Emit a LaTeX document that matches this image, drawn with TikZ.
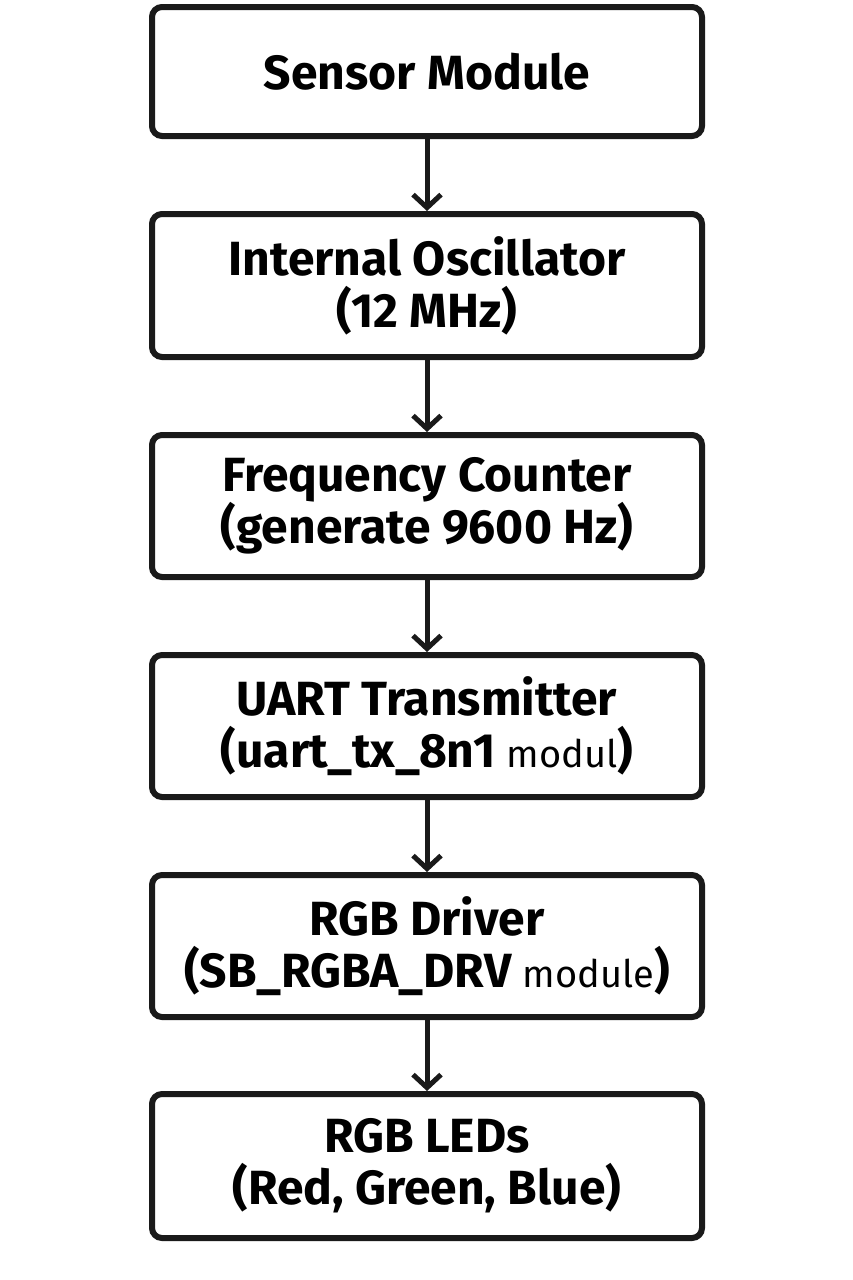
\documentclass[tikz,border=0pt]{standalone}
\usepackage{fontspec}
\setmainfont{Fira Sans}
\usetikzlibrary{arrows.meta}
\tikzset{
  blk/.style={draw=ink, line width=6pt, rounded corners=10pt, fill=white,
    minimum width=550pt, align=center, inner sep=0pt,
    font=\fontsize{48}{52}\selectfont\bfseries},
  flow/.style={draw=ink, line width=5pt, -{Straight Barb[length=13pt,width=28pt,line width=5pt]}},
}
\definecolor{ink}{HTML}{1A1A1A}
\newcommand{\sm}[1]{{\fontsize{38}{52}\selectfont\mdseries #1}}
\begin{document}
\begin{tikzpicture}[x=1pt,y=-1pt]
\useasboundingbox[fill=white] (0,0) rectangle (853,1280);
\node[blk, minimum height=129pt] (b1) at (427,71.5) {Sensor Module};
\node[blk, minimum height=143pt] (b2) at (427,285.5) {Internal Oscillator\\(12 MHz)};
\node[blk, minimum height=142pt] (b3) at (427,506) {Frequency Counter\\(generate 9600 Hz)};
\node[blk, minimum height=142pt] (b4) at (427,726) {UART Transmitter\\(uart\_tx\_8n1 \sm{modul})};
\node[blk, minimum height=142pt] (b5) at (427,946) {RGB Driver\\(SB\_RGBA\_DRV \sm{module})};
\node[blk, minimum height=144pt] (b6) at (427,1166) {RGB LEDs\\(Red, Green, Blue)};
\draw[flow] (b1.south) -- (b2.north);
\draw[flow] (b2.south) -- (b3.north);
\draw[flow] (b3.south) -- (b4.north);
\draw[flow] (b4.south) -- (b5.north);
\draw[flow] (b5.south) -- (b6.north);
\end{tikzpicture}
\end{document}
